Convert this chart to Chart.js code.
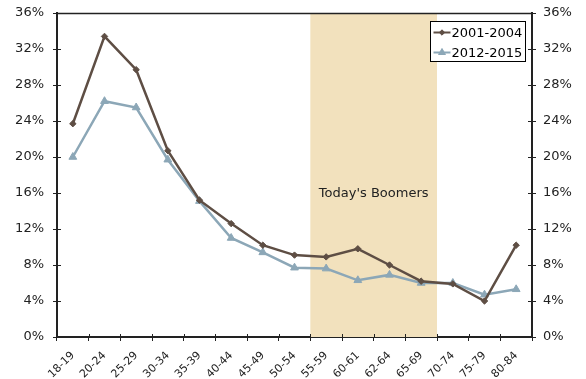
<!DOCTYPE html>
<html>
<head>
<meta charset="utf-8">
<script src="https://cdn.jsdelivr.net/npm/chart.js@4/dist/chart.umd.min.js"></script>
<style>
  html, body { margin: 0; padding: 0; background: #fff; }
  #wrap { width: 586px; height: 379px; }
</style>
</head>
<body>
<div id="wrap"><canvas id="c" width="586" height="379"></canvas></div>
<script>
// Age groups along the x axis
const ageGroups = ['18-19', '20-24', '25-29', '30-34', '35-39', '40-44', '45-49', '50-54',
                   '55-59', '60-61', '62-64', '65-69', '70-74', '75-79', '80-84'];

// Share (%) for each period
const period1Label = '2001-2004';
const period1 = [23.7, 33.4, 29.7, 20.7, 15.2, 12.6, 10.2, 9.1, 8.9, 9.8, 8.0, 6.2, 5.9, 4.0, 10.2];

const period2Label = '2012-2015';
const period2 = [20.0, 26.2, 25.5, 19.7, 15.1, 11.0, 9.4, 7.7, 7.6, 6.3, 6.9, 6.0, 6.0, 4.7, 5.3];

// Highlighted span of age groups
const bandFrom = '55-59';
const bandTo = '65-69';
const bandLabel = "Today's Boomers";

// Percentage axis
const yMin = 0, yMax = 36, yStep = 4;

const FONT = '"DejaVu Sans", Verdana, sans-serif';
const INK = '#222';
const BROWN = '#5e4e44';
const STEEL = '#8ca7b7';
const SAND = '#f2e1bd';

const bandPlugin = {
  id: 'band',
  beforeDatasetsDraw(chart) {
    const { ctx, chartArea, scales } = chart;
    const xs = scales.x;
    const i0 = ageGroups.indexOf(bandFrom), i1 = ageGroups.indexOf(bandTo);
    const x0 = xs.getPixelForValue(i0 - 0.5);
    const x1 = xs.getPixelForValue(i1 + 0.5);
    ctx.save();
    ctx.fillStyle = SAND;
    ctx.fillRect(x0, chartArea.top, x1 - x0, chartArea.bottom - chartArea.top);
    ctx.fillStyle = INK;
    ctx.font = '13px ' + FONT;
    ctx.textAlign = 'center';
    ctx.textBaseline = 'middle';
    ctx.fillText(bandLabel, (x0 + x1) / 2, scales.y.getPixelForValue(15.9));
    ctx.restore();
  }
};

const framePlugin = {
  id: 'frame',
  afterDraw(chart) {
    const { ctx, chartArea, scales } = chart;
    ctx.save();
    ctx.strokeStyle = INK;
    // top edge of the plot
    ctx.lineWidth = 1.5;
    ctx.beginPath();
    ctx.moveTo(chartArea.left, chartArea.top + 0.5);
    ctx.lineTo(chartArea.right, chartArea.top + 0.5);
    ctx.stroke();
    // inner halves of tick marks so they cross the axes
    ctx.lineWidth = 1;
    ctx.beginPath();
    for (let v = yMin; v <= yMax; v += yStep) {
      const y = Math.round(scales.y.getPixelForValue(v)) + 0.5;
      ctx.moveTo(chartArea.left, y); ctx.lineTo(chartArea.left + 4, y);
      ctx.moveTo(chartArea.right - 4, y); ctx.lineTo(chartArea.right, y);
    }
    for (let i = 0; i <= ageGroups.length; i++) {
      const x = Math.round(scales.x.getPixelForValue(i - 0.5)) + 0.5;
      ctx.moveTo(x, chartArea.bottom - 3); ctx.lineTo(x, chartArea.bottom);
    }
    ctx.stroke();
    ctx.restore();
  }
};

const legendPlugin = {
  id: 'boxLegend',
  afterDraw(chart) {
    const { ctx } = chart;
    const bx = 430.5, by = 21.5, bw = 95, bh = 40;
    ctx.save();
    ctx.fillStyle = '#fff';
    ctx.fillRect(bx, by, bw, bh);
    ctx.strokeStyle = '#000';
    ctx.lineWidth = 1;
    ctx.strokeRect(bx, by, bw, bh);
    ctx.font = '13px ' + FONT;
    ctx.textBaseline = 'middle';
    ctx.textAlign = 'left';
    chart.data.datasets.forEach((ds, i) => {
      const y = by + 11 + i * 20;
      ctx.strokeStyle = ds.borderColor;
      ctx.lineWidth = 2;
      ctx.beginPath();
      ctx.moveTo(bx + 3, y); ctx.lineTo(bx + 20, y);
      ctx.stroke();
      ctx.fillStyle = ds.borderColor;
      ctx.lineWidth = 1;
      Chart.helpers.drawPoint(ctx, {
        pointStyle: ds.pointStyle, radius: ds.pointRadius - 0.5, rotation: 0, borderWidth: 1
      }, bx + 11.5, y);
      ctx.fillStyle = '#000';
      ctx.fillText(ds.label, bx + 21, y + 1);
    });
    ctx.restore();
  }
};

const pctTicks = {
  color: INK,
  font: { family: FONT, size: 13 },
  stepSize: yStep,
  callback: v => v + '%'
};

// fixed axis band sizes so the plot area sits where intended
const fixWidth = w => s => { s.width = w; s.paddingTop = 0; s.paddingBottom = 0; };

new Chart(document.getElementById('c'), {
  type: 'line',
  data: {
    labels: ageGroups,
    datasets: [
      {
        label: period1Label, data: period1,
        borderColor: BROWN, backgroundColor: BROWN,
        borderWidth: 2.5, pointStyle: 'rectRot', pointRadius: 3.2,
        pointBorderWidth: 1, tension: 0
      },
      {
        label: period2Label, data: period2,
        borderColor: STEEL, backgroundColor: STEEL,
        borderWidth: 2.5, pointStyle: 'triangle', pointRadius: 4.5,
        pointBorderWidth: 1, tension: 0
      }
    ]
  },
  options: {
    responsive: false,
    animation: false,
    devicePixelRatio: 1,
    layout: { padding: { top: 13, left: 0, right: 0, bottom: 0 } },
    plugins: { legend: { display: false }, tooltip: { enabled: false } },
    scales: {
      x: {
        offset: true,
        grid: { display: true, drawOnChartArea: false, drawTicks: true, tickLength: 4, color: INK, offset: true },
        border: { display: true, color: INK, width: 2 },
        ticks: { color: INK, font: { family: FONT, size: 11 }, maxRotation: 45, minRotation: 45, autoSkip: false, padding: 8 },
        afterFit: s => { s.height = 42; s.paddingLeft = 0; s.paddingRight = 0; }
      },
      y: {
        position: 'left', min: yMin, max: yMax,
        grid: { display: true, drawOnChartArea: false, drawTicks: true, tickLength: 4, color: INK },
        border: { display: true, color: INK, width: 2 },
        ticks: Object.assign({ padding: 9 }, pctTicks),
        afterFit: fixWidth(57)
      },
      y2: {
        position: 'right', min: yMin, max: yMax,
        grid: { display: true, drawOnChartArea: false, drawTicks: true, tickLength: 4, color: INK },
        border: { display: true, color: INK, width: 2 },
        ticks: Object.assign({ padding: 7 }, pctTicks),
        afterFit: fixWidth(54)
      }
    }
  },
  plugins: [bandPlugin, framePlugin, legendPlugin]
});
</script>
</body>
</html>
